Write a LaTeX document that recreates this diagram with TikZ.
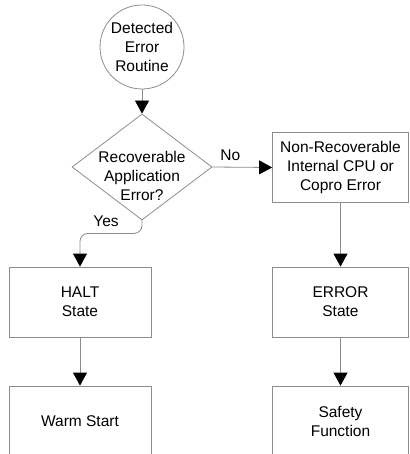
\documentclass[tikz,border=0pt]{standalone}
\usepackage{fontspec}
\setmainfont{Liberation Sans}
\usetikzlibrary{shapes.geometric,arrows.meta}
\definecolor{linegray}{RGB}{140,140,140}
\begin{document}
\begin{tikzpicture}[x=1pt,y=-1pt,
  every node/.style={font=\fontsize{15.5}{19}\selectfont, align=center},
  box/.style={draw=linegray, line width=0.8pt, minimum width=136pt, minimum height=70pt, inner sep=0pt},
  conn/.style={draw=linegray, line width=0.8pt, -{Triangle[length=13pt,width=14pt,color=black]}},
]
\useasboundingbox (0,0) rectangle (409,454);

\node[draw=linegray, line width=0.8pt, circle, minimum size=84pt, inner sep=0pt] (start) at (142,47) {Detected\\Error\\Routine};
\node[diamond, draw=linegray, line width=0.8pt, minimum width=140pt, minimum height=106pt, inner sep=0pt] (dec) at (142,167) {};
\node (dect) at (142,176) {Recoverable\\Application\\Error?};

\node[box, minimum width=136pt] (nonrec) at (340.5,167.5) {Non-Recoverable\\Internal CPU or\\Copro Error};
\node[box, minimum width=142pt] (halt) at (80,302) {HALT\\State};
\node[box, minimum width=136pt] (err) at (340.5,302) {ERROR\\State};
\node[box, minimum width=142pt] (warm) at (80,421) {Warm Start};
\node[box, minimum width=136pt] (safe) at (340.5,421) {Safety\\Function};

\draw[conn] (start) -- (dec.north);
\draw[conn] (dec.east) -- (nonrec.west) node[pos=0.3, above=3pt] (no) {No};
\draw[conn, rounded corners=8pt] (dec.south) -- ++(0,13) -| (halt.north);
\node (yes) at (106,221) {Yes};
\draw[conn] (nonrec) -- (err);
\draw[conn] (halt) -- (warm);
\draw[conn] (err) -- (safe);
\end{tikzpicture}
\end{document}
